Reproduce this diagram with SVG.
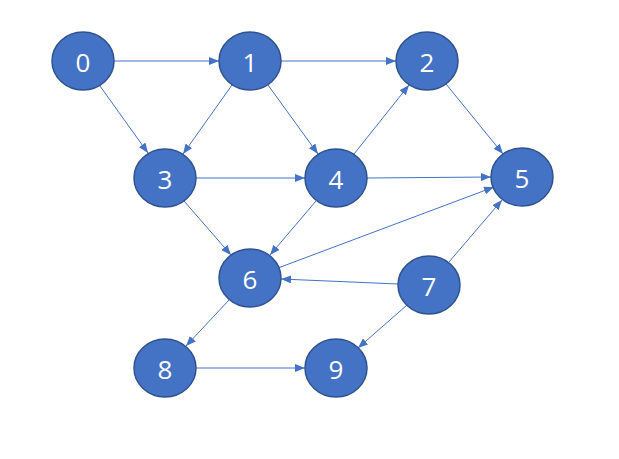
<svg xmlns="http://www.w3.org/2000/svg" width="619" height="459" viewBox="0 0 619 459">
<style>
.n ellipse{fill:#4472C4;stroke:#2F528F;stroke-width:1.5}
.n text{fill:#fff;font-family:"Open Sans","Liberation Sans",sans-serif;font-size:26px;text-anchor:middle;dominant-baseline:central}
#edges line{stroke:#4472C4;stroke-width:1}
</style>
<defs><marker id="a" viewBox="0 0 10 8" refX="10" refY="4" markerWidth="10" markerHeight="8" markerUnits="userSpaceOnUse" orient="auto"><path d="M0,0L10,4L0,8z" fill="#4472C4"/></marker></defs>
<rect width="619" height="459" fill="#fff"/>
<g id="edges" marker-end="url(#a)">
<line x1="114" y1="61" x2="219" y2="61" marker-end="url(#a)"/>
<line x1="100" y1="86" x2="148" y2="153" marker-end="url(#a)"/>
<line x1="232" y1="85" x2="183" y2="154" marker-end="url(#a)"/>
<line x1="281" y1="61" x2="396" y2="61" marker-end="url(#a)"/>
<line x1="268" y1="85" x2="318" y2="154" marker-end="url(#a)"/>
<line x1="196" y1="178" x2="305" y2="178" marker-end="url(#a)"/>
<line x1="184" y1="201" x2="231" y2="255" marker-end="url(#a)"/>
<line x1="354" y1="154" x2="409" y2="85" marker-end="url(#a)"/>
<line x1="367" y1="178" x2="491" y2="177" marker-end="url(#a)"/>
<line x1="316" y1="201" x2="270" y2="255" marker-end="url(#a)"/>
<line x1="446" y1="84" x2="503" y2="154" marker-end="url(#a)"/>
<line x1="278" y1="268" x2="494" y2="187" marker-end="url(#a)"/>
<line x1="398" y1="284" x2="281" y2="279" marker-end="url(#a)"/>
<line x1="449" y1="262" x2="502" y2="200" marker-end="url(#a)"/>
<line x1="407" y1="305" x2="358" y2="348" marker-end="url(#a)"/>
<line x1="229" y1="300" x2="186" y2="346" marker-end="url(#a)"/>
<line x1="196" y1="368" x2="305" y2="368" marker-end="url(#a)"/>
</g>
<g id="n0" class="n"><ellipse cx="83" cy="61" rx="31" ry="29"/><text x="83" y="62">0</text></g>
<g id="n1" class="n"><ellipse cx="250" cy="61" rx="31" ry="29"/><text x="250" y="62">1</text></g>
<g id="n2" class="n"><ellipse cx="427" cy="61" rx="31" ry="29"/><text x="427" y="62">2</text></g>
<g id="n3" class="n"><ellipse cx="165" cy="178" rx="31" ry="29"/><text x="165" y="179">3</text></g>
<g id="n4" class="n"><ellipse cx="336" cy="178" rx="31" ry="29"/><text x="336" y="179">4</text></g>
<g id="n5" class="n"><ellipse cx="522" cy="177" rx="31" ry="29"/><text x="522" y="178">5</text></g>
<g id="n6" class="n"><ellipse cx="250" cy="278" rx="31" ry="29"/><text x="250" y="279">6</text></g>
<g id="n7" class="n"><ellipse cx="429" cy="285" rx="31" ry="29"/><text x="429" y="286">7</text></g>
<g id="n8" class="n"><ellipse cx="165" cy="368" rx="31" ry="29"/><text x="165" y="369">8</text></g>
<g id="n9" class="n"><ellipse cx="336" cy="368" rx="31" ry="29"/><text x="336" y="369">9</text></g>
</svg>
